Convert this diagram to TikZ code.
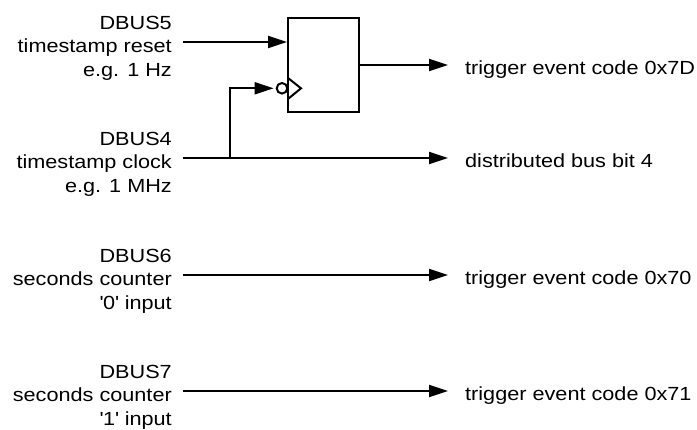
\documentclass[tikz,border=0pt]{standalone}
\usepackage{fontspec}
\setmainfont{Liberation Sans}[FakeStretch=1.14]
\usetikzlibrary{arrows.meta}
\tikzset{
  wire/.style={line width=2pt, line cap=butt},
  arr/.style={wire, -{Triangle[length=19pt,width=12pt]}},
  lbl/.style={anchor=north east, inner sep=0pt, align=right, font=\fontsize{19}{23.5}\selectfont},
  rlbl/.style={anchor=base west, inner sep=0pt, font=\fontsize{19}{23.5}\selectfont},
}
\begin{document}
\begin{tikzpicture}[x=1pt,y=-1pt]
\useasboundingbox (0,0) rectangle (697,430);
% flip-flop box
\node[draw, line width=2pt, minimum width=71pt, minimum height=94pt, inner sep=0pt] (ff) at (323.5,65) {};
\node[draw, circle, line width=2pt, minimum size=10.6pt, inner sep=0pt] (inv) at (282,88.3) {};
\draw[wire, line join=miter] (288,78) -- (301,88.3) -- (288,99);
% left labels
\node[lbl] (l1) at (172,42-26) {DBUS5\\timestamp reset\\e.g. 1 Hz};
\node[lbl] (l2) at (172,158-26) {DBUS4\\timestamp clock\\e.g. 1 MHz};
\node[lbl] (l3) at (172,275-26) {DBUS6\\seconds counter\\\textquotesingle0\textquotesingle\ input};
\node[lbl] (l4) at (172,391-26) {DBUS7\\seconds counter\\\textquotesingle1\textquotesingle\ input};
% right labels
\node[rlbl] (r1) at (465,65+10) {trigger event code 0x7D};
\node[rlbl] (r2) at (465,158+10) {distributed bus bit 4};
\node[rlbl] (r3) at (465,275+10) {trigger event code 0x70};
\node[rlbl] (r4) at (465,391+10) {trigger event code 0x71};
% coordinates
\coordinate (s1) at (183,42);
\coordinate (s2) at (183,158);
\coordinate (s3) at (183,275);
\coordinate (s4) at (183,391);
\coordinate (j) at (230,158);
\coordinate (e1) at (448,65);
\coordinate (e2) at (448,158);
\coordinate (e3) at (448,275);
\coordinate (e4) at (448,391);
% connectors
\draw[arr] (s1) -- (ff.west |- s1);
\draw[arr] (ff.east) -- (e1);
\draw[arr] (s2) -- (e2);
\draw[arr, line join=miter] (j) |- ([xshift=-2pt]inv.west);
\draw[arr] (s3) -- (e3);
\draw[arr] (s4) -- (e4);
\end{tikzpicture}
\end{document}
